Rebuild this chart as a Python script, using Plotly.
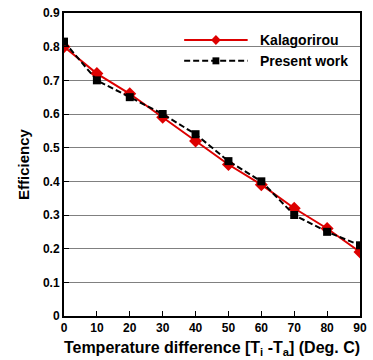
import plotly.graph_objects as go

# Temperature difference (deg C) and collector efficiency
temp_diff = [0, 10, 20, 30, 40, 50, 60, 70, 80, 90]
eff_kalagirou = [0.80, 0.72, 0.66, 0.59, 0.52, 0.45, 0.39, 0.32, 0.26, 0.19]
eff_present = [0.815, 0.70, 0.65, 0.60, 0.54, 0.46, 0.40, 0.30, 0.25, 0.21]

series_names = ["Kalagorirou", "Present work"]
x_ticks = [0, 10, 20, 30, 40, 50, 60, 70, 80, 90]
y_ticks = [0, 0.1, 0.2, 0.3, 0.4, 0.5, 0.6, 0.7, 0.8, 0.9]
y_ticktext = ["0", "0.1", "0.2", "0.3", "0.4", "0.5", "0.6", "0.7", "0.8", "0.9"]

FONT = "Liberation Sans, Arial, sans-serif"
RED = "#dd0000"
DASH = "6px,3px"

fig = go.Figure()
fig.add_trace(go.Scatter(
    x=temp_diff, y=eff_kalagirou, name=series_names[0],
    mode="lines+markers",
    line=dict(color=RED, width=2),
    marker=dict(symbol="diamond", size=10, color=RED),
))
fig.add_trace(go.Scatter(
    x=temp_diff, y=eff_present, name=series_names[1],
    mode="lines+markers",
    line=dict(color="black", width=2, dash=DASH),
    marker=dict(symbol="square", size=8, color="black"),
))

# Legend drawn in paper coordinates, with long line samples
W, H = 303.0, 304.0            # plot area size in px
lx0, lx1 = 123 / W, 188 / W     # line sample extent
lxm = (lx0 + lx1) / 2
row_y = [277 / H, 256 / H]
tx = 199 / W
shapes = []
annotations = []
# row 1: solid red line with diamond
shapes.append(dict(type="line", xref="paper", yref="paper",
                   x0=lx0, x1=lx1, y0=row_y[0], y1=row_y[0],
                   line=dict(color=RED, width=2)))
dx, dy = 5 / W, 5 / H
shapes.append(dict(type="path", xref="paper", yref="paper",
                   path=(f"M{lxm - dx},{row_y[0]} L{lxm},{row_y[0] + dy} "
                         f"L{lxm + dx},{row_y[0]} L{lxm},{row_y[0] - dy} Z"),
                   fillcolor=RED, line=dict(color=RED, width=0)))
# row 2: dashed black line with square
shapes.append(dict(type="line", xref="paper", yref="paper",
                   x0=lx0, x1=lx1, y0=row_y[1], y1=row_y[1],
                   line=dict(color="black", width=2, dash=DASH)))
sx, sy = 3.5 / W, 3.5 / H
shapes.append(dict(type="rect", xref="paper", yref="paper",
                   x0=lxm - sx, x1=lxm + sx, y0=row_y[1] - sy, y1=row_y[1] + sy,
                   fillcolor="black", line=dict(color="black", width=0)))
for name, yy in zip(series_names, row_y):
    annotations.append(dict(text=name, xref="paper", yref="paper",
                            x=tx, y=yy, xanchor="left", yanchor="middle",
                            showarrow=False,
                            font=dict(family=FONT, size=14, color="black",
                                      weight="bold")))

fig.update_layout(
    width=373, height=360,
    margin=dict(l=64, r=6, t=12, b=44),
    paper_bgcolor="white", plot_bgcolor="white",
    font=dict(family=FONT, size=12, color="black", weight="bold"),
    showlegend=False,
    shapes=shapes,
    annotations=annotations,
    xaxis=dict(
        range=[0, 90], tickvals=x_ticks,
        ticks="inside", ticklen=5, tickwidth=1, tickcolor="black",
        showline=True, linecolor="black", linewidth=2, mirror=True,
        showgrid=False, zeroline=False,
        tickfont=dict(family=FONT, size=12, weight="bold"),
        title=dict(
            text="Temperature difference [T<sub>i</sub> -T<sub>a</sub>] (Deg. C)",
            font=dict(family=FONT, size=16, weight="bold"), standoff=7,
        ),
    ),
    yaxis=dict(
        range=[0, 0.9], tickvals=y_ticks, ticktext=y_ticktext,
        ticks="inside", ticklen=5, tickwidth=1, tickcolor="black",
        showline=True, linecolor="black", linewidth=2, mirror=True,
        showgrid=True, gridcolor="#808080", gridwidth=1, zeroline=False,
        tickfont=dict(family=FONT, size=12, weight="bold"),
        title=dict(text="Efficiency",
                   font=dict(family=FONT, size=15, weight="bold"), standoff=10),
    ),
)

fig.write_html("out.html")
